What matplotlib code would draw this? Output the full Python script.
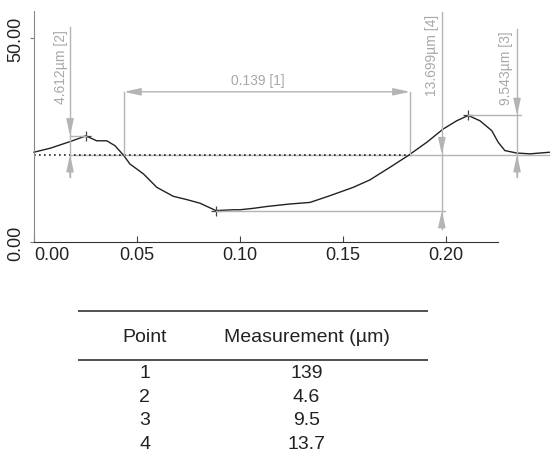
import numpy as np
import matplotlib.pyplot as plt

plt.rcParams['font.family'] = ['Liberation Sans', 'DejaVu Sans']

# surface profile (x in mm, height in µm)
profile_x = [0.000, 0.008, 0.0175, 0.0252, 0.0304, 0.0353, 0.0393, 0.0434,
             0.0466, 0.0531, 0.0596, 0.0676, 0.0741, 0.0806, 0.0883, 0.0968,
             0.1000, 0.1065, 0.113, 0.124, 0.134, 0.1437, 0.155, 0.163,
             0.1728, 0.1817, 0.1906, 0.1987, 0.2052, 0.2108, 0.2165, 0.2222,
             0.2254, 0.2286, 0.2343, 0.2408, 0.2456, 0.2505]
profile_y = [22.0, 23.0, 24.6, 26.0, 24.8, 24.8, 23.6, 21.3,
             19.1, 16.7, 13.4, 11.2, 10.4, 9.5, 7.7, 7.9,
             7.9, 8.25, 8.7, 9.3, 9.7, 11.35, 13.4, 15.2,
             18.3, 21.2, 24.4, 27.7, 29.7, 31.0, 29.7, 27.3,
             24.4, 22.4, 21.8, 21.6, 21.8, 22.0]

baseline = 21.4
peak1 = (0.0252, 26.0)
valley = (0.0883, 7.7)
peak2 = (0.2108, 31.0)
cross_left, cross_right = 0.0437, 0.1825

dim_labels = ['0.139 [1]', '4.612µm [2]', '9.543µm [3]', '13.699µm [4]']

table_points = ['1', '2', '3', '4']
table_values = ['139', '4.6', '9.5', '13.7']

grey = '#b4b4b4'
grey_txt = '#a8a8a8'

fig = plt.figure(figsize=(5.5, 4.52), dpi=100)
ax = fig.add_axes([34 / 550, 209 / 452, 516 / 550, 231 / 452])

# reference level
ax.plot([0.0175, 0.2505], [baseline, baseline], color=grey, lw=1.0)
ax.plot([0, cross_right], [baseline, baseline], color='#222222', lw=1.2,
        ls=(0, (1.0, 2.0)))

# profile
ax.plot(profile_x, profile_y, color='#222222', lw=1.0, clip_on=False)
ax.plot([peak1[0], valley[0], peak2[0]], [peak1[1], valley[1], peak2[1]],
        '+', color='#444444', ms=7, mew=0.9)

def arrow(x0, y0, x1, y1, style='-|>'):
    ax.annotate('', xy=(x1, y1), xytext=(x0, y0),
                arrowprops=dict(arrowstyle=style + ',head_length=1.0,head_width=0.22',
                                color=grey, lw=1.0, mutation_scale=10,
                                shrinkA=0, shrinkB=0))

# [1] horizontal distance
y1 = 36.8
ax.plot([cross_left, cross_left], [baseline, y1], color=grey, lw=1.0)
ax.plot([cross_right, cross_right], [baseline, y1], color=grey, lw=1.0)
arrow(cross_left, y1, cross_right, y1, '<|-|>')
ax.text((cross_left + cross_right) / 2 - 0.0045, y1 + 1.2, dim_labels[0],
        color=grey_txt, fontsize=10, ha='center', va='bottom')

# [2] step at left peak
x2 = 0.0175
ax.plot([x2, x2], [52.7, 15.9], color=grey, lw=1.0)
ax.plot([x2, peak1[0]], [peak1[1], peak1[1]], color=grey, lw=1.0)
arrow(x2, peak1[1] + 4, x2, peak1[1])
arrow(x2, 15.9, x2, baseline)
ax.text(x2 - 0.0042, 43.0, dim_labels[1], color=grey_txt, fontsize=10,
        rotation=90, ha='center', va='center')

# [3] step at right peak
x3 = 0.2345
ax.plot([x3, x3], [52.2, 15.9], color=grey, lw=1.0)
ax.plot([peak2[0], x3 + 0.002], [peak2[1], peak2[1]], color=grey, lw=1.0)
arrow(x3, peak2[1] + 4, x3, peak2[1])
arrow(x3, 15.9, x3, baseline)
ax.text(x3 - 0.0056, 42.8, dim_labels[2], color=grey_txt, fontsize=10,
        rotation=90, ha='center', va='center')

# [4] depth of valley
x4 = 0.198
ax.plot([x4, x4], [56.4, 3.2], color=grey, lw=1.0)
ax.plot([valley[0], x4 + 0.0015], [valley[1], valley[1]], color=grey, lw=1.0)
arrow(x4, baseline + 4, x4, baseline)
arrow(x4, valley[1] - 4, x4, valley[1])
ax.text(x4 - 0.005, 45.9, dim_labels[3], color=grey_txt, fontsize=10,
        rotation=90, ha='center', va='center')

ax.set_xlim(0, 0.2505)
ax.set_ylim(0, 56.6)
ax.set_xticks([0.0, 0.05, 0.10, 0.15, 0.20])
ax.set_xticklabels(['0.00', '0.05', '0.10', '0.15', '0.20'])
ax.set_yticks([0, 50])
ax.set_yticklabels(['0.00', '50.00'], rotation=90, va='center')
ax.get_xticklabels()[0].set_ha('left')
ax.tick_params(axis='x', direction='in', length=4, pad=3, labelsize=13,
               labelcolor='#222222', color='#444444')
ax.tick_params(axis='y', direction='out', length=3, pad=4, labelsize=13,
               labelcolor='#222222', color='#777777')
for s in ['top', 'right']:
    ax.spines[s].set_visible(False)
ax.spines['left'].set_color('#888888')
ax.spines['bottom'].set_color('#333333')
ax.spines['bottom'].set_bounds(0, 0.2252)
ax.patch.set_alpha(0)

# measurement table
tax = fig.add_axes([78 / 550, 0, 350 / 550, 152 / 452])
tax.set_xlim(0, 1)
tax.set_ylim(4.81, -1.6)
tax.axis('off')
tax.hlines([-1.11, 0.97], 0, 1, color='#333333', lw=1.2)
col_x = [0.191, 0.653]
tax.text(col_x[0], 0, 'Point', fontsize=14, color='#222222', ha='center', va='center')
tax.text(col_x[1], 0, 'Measurement (µm)', fontsize=14, color='#222222',
         ha='center', va='center')
for k, (p, v) in enumerate(zip(table_points, table_values)):
    tax.text(col_x[0], 1.5 + k, p, fontsize=14, color='#222222', ha='center', va='center')
    tax.text(col_x[1], 1.5 + k, v, fontsize=14, color='#222222', ha='center', va='center')

fig.savefig('out.png', dpi=100)
